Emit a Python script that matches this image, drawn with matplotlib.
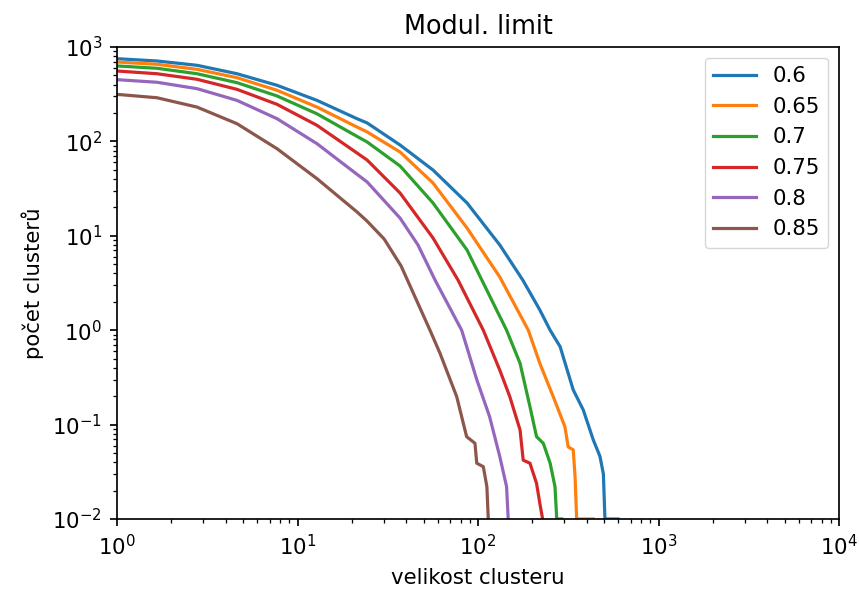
import matplotlib
matplotlib.use("Agg")
import matplotlib.pyplot as plt

# scale factor: the reference was rendered at a higher dpi
S = 1.53

labels = ["0.6", "0.65", "0.7", "0.75", "0.8", "0.85"]

size_06 = [1, 1.666, 2.775, 4.62, 7.70, 12.82, 21.36, 24.3, 37.0, 56.3, 86.9, 132, 177,
           220, 251, 285, 337, 383, 435, 474, 495, 505, 597]
count_06 = [752, 711, 640, 521, 393, 272, 174, 157, 91.6, 49.8, 22.3, 8.0, 3.4,
            1.64, 1.0, 0.67, 0.233, 0.143, 0.069, 0.046, 0.030, 0.01, 0.01]

size_065 = [1, 1.666, 2.775, 4.62, 7.70, 12.82, 21.36, 24.3, 37.0, 56.3, 86.9, 132,
            190, 220, 261, 303, 316, 337, 345, 352, 435]
count_065 = [693, 656, 580, 473, 348, 231, 142, 126, 77.2, 36.3, 12.1, 3.66,
             1.0, 0.446, 0.198, 0.095, 0.058, 0.054, 0.028, 0.01, 0.01]

size_07 = [1, 1.666, 2.775, 4.62, 7.70, 12.82, 21.36, 24.3, 37.0, 56.3, 86.9, 105,
           144, 171, 194, 211, 230, 251, 267, 273, 291]
count_07 = [630, 595, 521, 419, 303, 196, 113, 98.6, 54.9, 22.3, 7.08, 3.4,
            1.0, 0.446, 0.155, 0.0745, 0.0634, 0.039, 0.022, 0.01, 0.01]

size_075 = [1, 1.666, 2.775, 4.62, 7.70, 12.82, 21.36, 24.3, 37.0, 56.3, 77.5,
            107, 132, 150, 171, 178, 194, 211, 220, 228]
count_075 = [557, 521, 455, 356, 247, 148, 75.4, 63.5, 28.4, 9.5, 3.4,
             1.0, 0.378, 0.198, 0.0877, 0.042, 0.039, 0.0239, 0.0147, 0.01]

size_08 = [1, 1.666, 2.775, 4.62, 7.70, 12.82, 21.36, 24.3, 37.0, 46.5, 57.8,
           81.2, 98.4, 116, 132, 144, 147]
count_08 = [451, 423, 362, 272, 174, 94.6, 44.8, 37.2, 15.4, 8.0, 3.4,
            1.0, 0.30, 0.121, 0.046, 0.022, 0.01]

size_085 = [1, 1.666, 2.775, 4.62, 7.70, 12.82, 21.36, 24.3, 30.2, 37.5, 54.2,
            61.6, 76.2, 86.5, 96.2, 98.4, 107, 112, 114]
count_085 = [315, 290, 231, 154, 83.7, 40.3, 17.9, 14.3, 9.25, 4.79, 1.0,
             0.569, 0.198, 0.0745, 0.0634, 0.039, 0.0358, 0.022, 0.01]

sizes = [size_06, size_065, size_07, size_075, size_08, size_085]
counts = [count_06, count_065, count_07, count_075, count_08, count_085]

plt.rcParams.update({
    "font.size": 10 * S,
    "axes.titlepad": 6 * S,
    "axes.labelpad": 4 * S,
    "xtick.major.pad": 3.5 * S,
    "ytick.major.pad": 3.5 * S,
    "xtick.major.size": 3.5 * S,
    "ytick.major.size": 3.5 * S,
    "xtick.minor.size": 2 * S,
    "ytick.minor.size": 2 * S,
    "xtick.major.width": 0.8 * S,
    "ytick.major.width": 0.8 * S,
    "xtick.minor.width": 0.6 * S,
    "ytick.minor.width": 0.6 * S,
    "axes.linewidth": 0.8 * S,
})

fig = plt.figure(figsize=(8.59, 5.92), dpi=100)
ax = fig.add_axes([117 / 859, 73 / 592, 722 / 859, 472 / 592])

for x, y, lab in zip(sizes, counts, labels):
    ax.plot(x, y, label=lab, linewidth=1.5 * S)

ax.set_xscale("log")
ax.set_yscale("log")
ax.set_xlim(1, 1e4)
ax.set_ylim(1e-2, 1e3)
ax.set_title("Modul. limit", fontsize=12 * S)
ax.set_xlabel("velikost clusteru")
ax.set_ylabel("počet clusterů")
ax.legend(loc="upper right")

fig.savefig("out.png", dpi=100)
